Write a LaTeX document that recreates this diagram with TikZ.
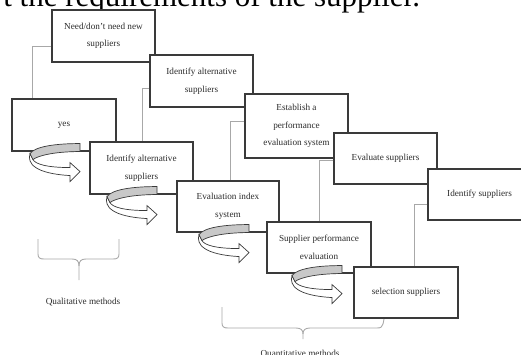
\documentclass[tikz,border=0pt]{standalone}
\usepackage{fontspec}
\setmainfont{Liberation Serif}
\usetikzlibrary{calc}
\definecolor{ink}{HTML}{3A3A3A}
\definecolor{wire}{HTML}{A8A8A8}
\definecolor{band}{HTML}{C8C8C8}
\definecolor{txt}{HTML}{2B2B2B}

\begin{document}
\begin{tikzpicture}[x=1pt,y=-1pt,font=\fontsize{9.2}{17.5}\selectfont,text=txt]
\tikzset{
  stage/.style={draw=ink,fill=white,line width=1.1pt,minimum width=103pt,minimum height=52pt,align=center,inner sep=1pt},
  link/.style={draw=wire,line width=0.8pt},
  brace/.style={draw=wire,line width=0.9pt},
  turnband/.style={draw=ink,fill=band,line width=0.7pt},
  turnbody/.style={draw=ink,fill=white,line width=0.7pt}
}
\useasboundingbox (0,0) rectangle (521,354);
\clip (0,0) rectangle (521,354);
\node[font=\fontsize{31}{31}\selectfont,text=black,anchor=base east] (headline) at (423.5,6.5) {t the requirements of the supplier.};

% lower row
\node[stage,minimum width=104pt] (yes) at (64,125) {yes};
\node[stage] (altB) at (141.5,168) {Identify alternative\\suppliers};
\node[stage,minimum width=102pt,minimum height=51pt] (index) at (228,206.5) {Evaluation index\\system};
\node[stage,minimum width=104pt,minimum height=51pt] (perf) at (319,247.5) {Supplier performance\\evaluation};
\node[stage,minimum width=104pt,minimum height=51pt] (sel) at (406,292.5) {selection suppliers};

% upper row
\node[stage] (need) at (103.5,36) {Need/don't need new\\suppliers};
\node[stage] (altA) at (201.5,81) {Identify alternative\\suppliers};
\node[stage,minimum height=64pt] (estab) at (296.5,126) {Establish a\\performance\\evaluation system};
\node[stage,minimum height=51pt] (evals) at (385.5,158.5) {Evaluate suppliers};
\node[stage,minimum height=51pt] (idsup) at (479.5,194.5) {Identify suppliers};

\draw[link] ([yshift=-10pt]need.west) -| ([xshift=-32pt]yes.north);
\draw[link] ([yshift=-7pt]altA.west) -| ([xshift=1pt]altB.north);
\draw[link] ([yshift=5pt]estab.west) -| ([xshift=2pt]index.north);
\draw[link] ([yshift=-1.5pt]evals.west) -| (perf.north);
\draw[link] ([yshift=-9.5pt]idsup.west) -| ([xshift=8pt]sel.north);

% turn arrows under the lower row
\foreach \stg/\dx in {yes/16,altB/15.5,index/21,perf/23}{
  \begin{scope}[shift={([xshift=\dx pt]\stg.south)}]
    \draw[turnbody] (-50,2) .. controls (-53,12) and (-45,22) .. (-10,24) -- (-10,30) -- (0,20) -- (-10,11) -- (-10,16) .. controls (-35,16) and (-45,12) .. (-47,8) -- cycle;
    \draw[turnband] (0,-8) .. controls (-25,-8) and (-45,-5) .. (-50,2) -- (-47,8) .. controls (-42,4) and (-25,0) .. (0,0) -- cycle;
  \end{scope}
}

% braces
\draw[brace] (38,239) -- (38,254) .. controls (38,258) and (40,259) .. (44,259) -- (72,259) .. controls (77,259) and (79,261) .. (79,266) -- (79,280);
\draw[brace] (119,239) -- (119,254) .. controls (119,258) and (117,259) .. (113,259) -- (86,259) .. controls (81,259) and (79,261) .. (79,266);
\node (qual) at (83,302) {Qualitative methods};

\draw[brace] (222,307) -- (222,323) .. controls (222,327) and (224,328) .. (228,328) -- (296,328) .. controls (301,328) and (303,330) .. (303,334) -- (303,339);
\draw[brace] (384,319) -- (383,324) .. controls (382,327) and (381,328) .. (377,328) -- (310,328) .. controls (305,328) and (303,330) .. (303,334);
\node[anchor=base] (quant) at (300,356) {Quantitative methods};
\end{tikzpicture}
\end{document}
